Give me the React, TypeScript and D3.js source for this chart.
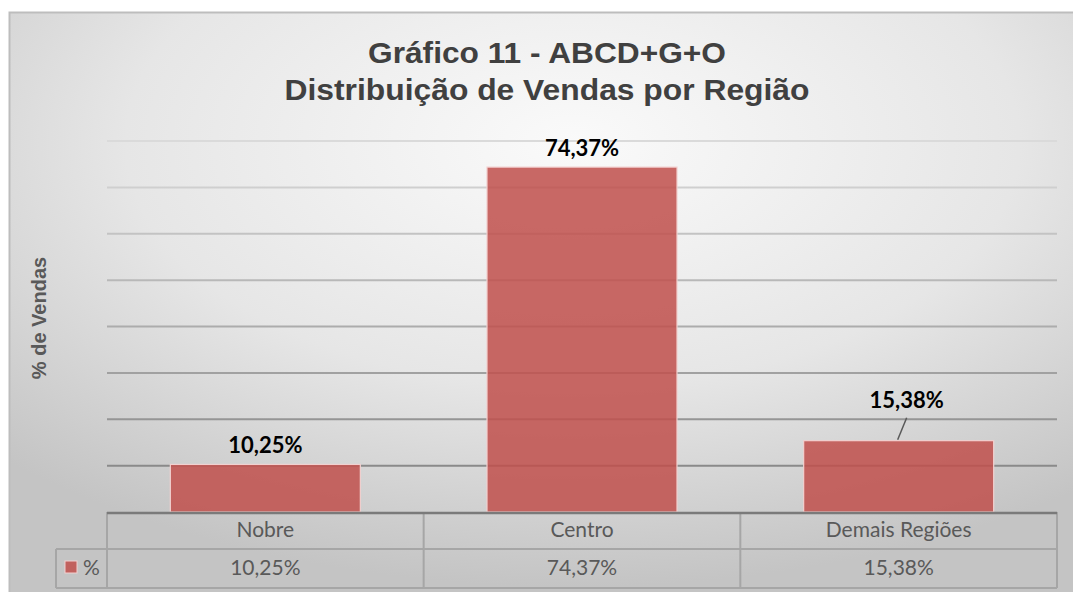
import React from "react";
import * as d3 from "d3";

const categories = ["Nobre", "Centro", "Demais Regiões"];
const values = [10.25, 74.37, 15.38];
const valueLabels = ["10,25%", "74,37%", "15,38%"];
const yTicks = [10, 20, 30, 40, 50, 60, 70, 80];
const seriesName = "%";
const titleLines = ["Gráfico 11 - ABCD+G+O", "Distribuição de Vendas por Região"];
const yAxisTitle = "% de Vendas";

const W = 1073;
const H = 592;

export default function App() {
  const left = 107, right = 1057, top = 141, base = 512;
  const x = d3.scaleBand<string>().domain(categories).range([left, right]).paddingInner(0.4).paddingOuter(0.2);
  const y = d3.scaleLinear().domain([0, 80]).range([base, top]);
  const step = x.step();
  const gridColor = d3.interpolateRgb("#dadada", "#8a8a8a");
  const row1 = 549, row2 = 588;
  const legendLeft = 56;
  const labelFont = "Lato, 'Open Sans', sans-serif";
  const titleFont = "'Liberation Sans', Arial, sans-serif";
  const titleWidths = [358, 525];

  return (
    <svg width={W} height={H} style={{ position: "absolute", left: 0, top: 0 }}>
      <defs>
        <radialGradient id="bg" cx="52%" cy="22%" r="75%">
          <stop offset="0%" stopColor="#fafafa" />
          <stop offset="55%" stopColor="#e6e6e6" />
          <stop offset="100%" stopColor="#c4c4c4" />
        </radialGradient>
      </defs>
      <rect x={0} y={0} width={W} height={H} fill="#ffffff" />
      <rect x={9.5} y={12.5} width={W + 10} height={H} fill="url(#bg)" stroke="#bdbdbd" strokeWidth={2} />

      {titleLines.map((t, i) => (
        <text key={i} x={547} y={63 + i * 37} textAnchor="middle" fontFamily={titleFont} fontWeight="bold" fontSize={30}
          fill="#404040" textLength={titleWidths[i]} lengthAdjust="spacingAndGlyphs">
          {t}
        </text>
      ))}

      <text transform={`translate(46,318) rotate(-90)`} textAnchor="middle" fontFamily={titleFont} fontWeight="bold" fontSize={20} fill="#595959">
        {yAxisTitle}
      </text>

      {yTicks.map((t, i) => (
        <line key={t} x1={left} x2={right} y1={y(t)} y2={y(t)} stroke={gridColor(1 - i / (yTicks.length - 1))} strokeWidth={2} />
      ))}

      {categories.map((c, i) => (
        <rect key={c} x={x(c)!} y={y(values[i])} width={x.bandwidth()} height={base - y(values[i])}
          fill="#c0504d" fillOpacity={0.86} stroke="#f2d0cf" strokeWidth={1.2} />
      ))}

      {categories.map((c, i) => {
        const cx = x(c)! + x.bandwidth() / 2;
        const isLast = i === categories.length - 1;
        const lx = isLast ? cx + 8 : cx;
        const ly = isLast ? y(values[i]) - 33 : y(values[i]) - 11;
        return (
          <g key={c}>
            {isLast && (
              <line x1={cx - 1} y1={y(values[i]) - 1} x2={cx + 8} y2={y(values[i]) - 23} stroke="#595959" strokeWidth={1.5} />
            )}
            <text x={lx} y={ly} textAnchor="middle" fontFamily={labelFont} fontWeight="bold" fontSize={22} fill="#000">
              {valueLabels[i]}
            </text>
          </g>
        );
      })}

      {/* data table */}
      <g stroke="#a6a6a6" strokeWidth={2} fill="none">
        <line x1={legendLeft} x2={right} y1={row1} y2={row1} />
        <line x1={legendLeft} x2={right} y1={row2} y2={row2} />
        <line x1={legendLeft} x2={legendLeft} y1={row1} y2={row2} />
        {d3.range(categories.length + 1).map((k) => (
          <line key={k} x1={left + k * step} x2={left + k * step} y1={base} y2={row2} />
        ))}
      </g>
      <line x1={left} x2={right} y1={base + 1} y2={base + 1} stroke="#7a7a7a" strokeWidth={2.5} />

      {categories.map((c, i) => (
        <g key={c}>
          <text x={left + (i + 0.5) * step} y={537} textAnchor="middle" fontFamily={labelFont} fontSize={21} fill="#595959">{c}</text>
          <text x={left + (i + 0.5) * step} y={575} textAnchor="middle" fontFamily={labelFont} fontSize={21} fill="#595959">{valueLabels[i]}</text>
        </g>
      ))}
      <rect x={65} y={561} width={12} height={12} fill="#c0504d" fillOpacity={0.86} stroke="#f2d0cf" strokeWidth={1} />
      <text x={83} y={575} fontFamily={labelFont} fontSize={21} fill="#595959">{seriesName}</text>
    </svg>
  );
}
